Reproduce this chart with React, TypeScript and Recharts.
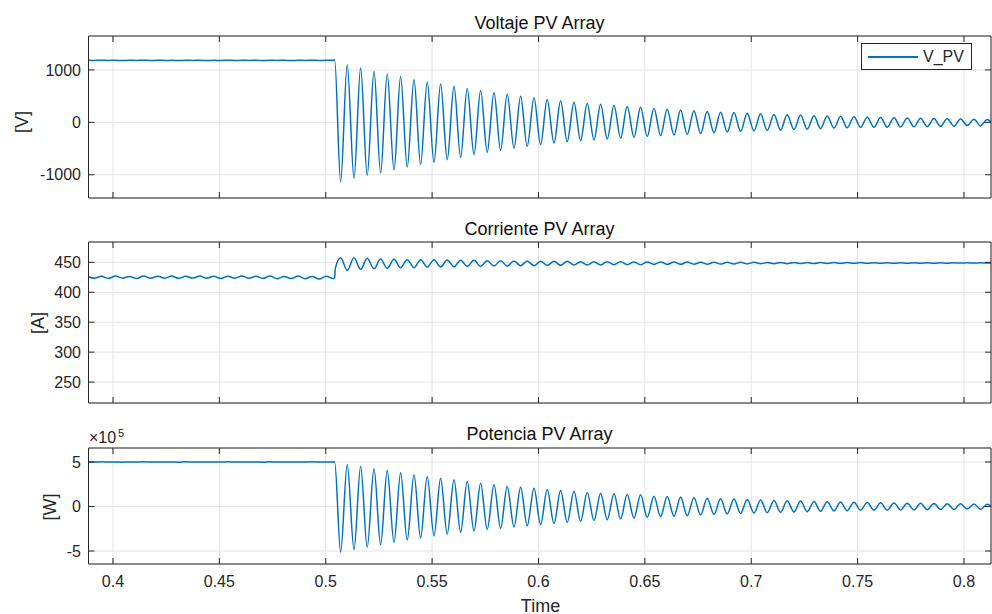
import React from 'react'
import { LineChart, Line, XAxis, YAxis, CartesianGrid } from 'recharts'

// eje de tiempo común
const xTicks = [0.4, 0.45, 0.5, 0.55, 0.6, 0.65, 0.7, 0.75, 0.8]
const xDomain = [0.3885, 0.8127]

// antes del escalón (rizado pequeño)
const tPre = [
  0.388, 0.3913, 0.3946, 0.3979, 0.4012, 0.4045, 0.4078, 0.4111, 0.4144, 0.4177, 0.421, 0.4243,
  0.4276, 0.4309, 0.4342, 0.4375, 0.4408, 0.4441, 0.4474, 0.4507, 0.454, 0.4573, 0.4606, 0.4639,
  0.4672, 0.4705, 0.4738, 0.4771, 0.4804, 0.4837, 0.487, 0.4903, 0.4936, 0.4969, 0.5002, 0.5035,
]
const vPre = [
  1184, 1180, 1186, 1181, 1185, 1179, 1184, 1182, 1186, 1180, 1185, 1181, 1184, 1179, 1186, 1182,
  1185, 1180, 1184, 1181, 1186, 1180, 1185, 1182, 1184, 1179, 1186, 1181, 1185, 1180, 1184, 1182,
  1186, 1180, 1185, 1183,
]
const iPre = [
  426.5, 423.5, 426.8, 423.2, 427.0, 423.8, 426.5, 423.0, 427.2, 423.5, 426.8, 423.6, 427.0, 423.3,
  426.6, 423.8, 427.1, 423.4, 426.9, 423.0, 426.8, 423.6, 427.2, 423.4, 426.7, 423.1, 427.0, 422.5,
  426.5, 423.0, 427.0, 422.8, 426.5, 422.0, 426.8, 423.0,
]
const pPre = [
  5.01, 4.99, 5.02, 4.99, 5.01, 4.98, 5.01, 5.0, 5.02, 4.99, 5.01, 4.99, 5.01, 4.98, 5.02, 5.0,
  5.01, 4.99, 5.01, 4.99, 5.02, 4.99, 5.01, 5.0, 5.01, 4.98, 5.02, 4.99, 5.01, 4.99, 5.01, 5.0,
  5.02, 4.99, 5.01, 5.0,
]

// escalón
const tStep = 0.5042
const vStep = 1195
const iStep = 424.5
const pStep = 5.02
const tJump = 0.5045
const iJump = 440

// oscilación amortiguada (picos y valles alternos)
const tOsc = [
  0.507, 0.5101, 0.5133, 0.5164, 0.5195, 0.5227, 0.5258, 0.5289, 0.5321, 0.5352, 0.5383, 0.5415,
  0.5446, 0.5477, 0.5509, 0.554, 0.5571, 0.5603, 0.5634, 0.5665, 0.5697, 0.5728, 0.5759, 0.5791,
  0.5822, 0.5853, 0.5885, 0.5916, 0.5947, 0.5979, 0.601, 0.6041, 0.6073, 0.6104, 0.6135, 0.6167,
  0.6198, 0.6229, 0.6261, 0.6292, 0.6323, 0.6355, 0.6386, 0.6417, 0.6449, 0.648, 0.6511, 0.6543,
  0.6574, 0.6605, 0.6637, 0.6668, 0.6699, 0.6731, 0.6762, 0.6793, 0.6825, 0.6856, 0.6887, 0.6919,
  0.695, 0.6981, 0.7013, 0.7044, 0.7075, 0.7107, 0.7138, 0.7169, 0.7201, 0.7232, 0.7263, 0.7295,
  0.7326, 0.7357, 0.7389, 0.742, 0.7451, 0.7483, 0.7514, 0.7545, 0.7577, 0.7608, 0.7639, 0.7671,
  0.7702, 0.7733, 0.7765, 0.7796, 0.7827, 0.7859, 0.789, 0.7921, 0.7953, 0.7984, 0.8015, 0.8047,
  0.8078, 0.8109, 0.8141,
]
const vOsc = [
  -1137, 1100, -1072, 1035, -1010, 975, -965, 925, -914, 875, -855, 820, -806, 770, -762, 730,
  -712, 688, -668, 648, -618, 610, -575, 572, -536, 535, -495, 500, -458, 470, -425, 435, -395,
  410, -370, 385, -352, 362, -335, 345, -318, 322, -300, 302, -285, 288, -270, 270, -255, 252,
  -243, 236, -232, 222, -215, 205, -198, 192, -186, 186, -174, 174, -165, 162, -155, 152, -148,
  143, -138, 138, -130, 127, -120, 120, -110, 114, -105, 108, -97, 99, -94, 92, -92, 89, -88, 83,
  -86, 80, -82, 74, -76, 70, -74, 66, -62, 60, -68, 55, -60,
]
const iOsc = [
  457.8, 436.5, 457.5, 438.2, 456.7, 439.4, 455.6, 439.9, 455.0, 441.0, 454.5, 441.0, 454.5, 442.2,
  454.2, 442.2, 453.9, 442.7, 453.4, 443.3, 453.4, 443.3, 452.8, 443.8, 452.8, 443.8, 452.2, 444.4,
  452.2, 444.4, 452.0, 445.0, 451.7, 445.0, 451.7, 445.5, 451.1, 445.5, 451.1, 445.6, 451.1, 446.1,
  451.0, 446.1, 450.6, 446.1, 450.6, 446.6, 450.6, 446.6, 450.5, 446.7, 450.4, 446.8, 450.3, 447.0,
  450.2, 447.1, 450.1, 447.3, 450.0, 447.4, 450.0, 447.6, 449.9, 447.7, 449.9, 447.8, 449.8, 447.9,
  449.8, 448.0, 449.7, 448.1, 449.7, 448.2, 449.6, 448.3, 449.6, 448.4, 449.5, 448.5, 449.5, 448.5,
  449.5, 448.6, 449.4, 448.6, 449.4, 448.7, 449.4, 448.7, 449.3, 448.8, 449.3, 448.8, 449.3, 448.9,
  449.2,
]
const pOsc = [
  -5.13, 4.72, -4.85, 4.53, -4.57, 4.23, -4.3, 4.04, -4.02, 3.78, -3.77, 3.56, -3.53, 3.37, -3.3,
  3.18, -3.08, 3.0, -2.9, 2.81, -2.74, 2.62, -2.58, 2.43, -2.45, 2.25, -2.31, 2.17, -2.17, 2.06,
  -2.04, 1.91, -1.92, 1.8, -1.8, 1.72, -1.69, 1.57, -1.58, 1.5, -1.49, 1.42, -1.4, 1.35, -1.31,
  1.31, -1.22, 1.16, -1.14, 1.13, -1.09, 1.06, -1.04, 0.99, -0.96, 0.92, -0.89, 0.86, -0.83, 0.83,
  -0.78, 0.78, -0.74, 0.73, -0.69, 0.68, -0.66, 0.64, -0.62, 0.62, -0.58, 0.57, -0.54, 0.54, -0.49,
  0.51, -0.47, 0.48, -0.43, 0.44, -0.42, 0.41, -0.41, 0.4, -0.39, 0.37, -0.39, 0.36, -0.37, 0.33,
  -0.34, 0.31, -0.33, 0.3, -0.28, 0.27, -0.3, 0.25, -0.27,
]

const vTicks = [-1000, 0, 1000]
const iTicks = [250, 300, 350, 400, 450]
const pTicks = [-5, 0, 5]

const FONT = "'Liberation Sans', Arial, Helvetica, sans-serif"
const INK = '#262626'
const BLUE = '#0072BD'
const TICK = 6

type Pt = { t: number; y: number }

const vData: Pt[] = [
  ...tPre.map((t, i) => ({ t, y: vPre[i] })),
  { t: tStep, y: vStep },
  ...tOsc.map((t, i) => ({ t, y: vOsc[i] })),
]
const iData: Pt[] = [
  ...tPre.map((t, i) => ({ t, y: iPre[i] })),
  { t: tStep, y: iStep },
  { t: tJump, y: iJump },
  ...tOsc.map((t, i) => ({ t, y: iOsc[i] })),
]
const pData: Pt[] = [
  ...tPre.map((t, i) => ({ t, y: pPre[i] })),
  { t: tStep, y: pStep },
  ...tOsc.map((t, i) => ({ t, y: pOsc[i] })),
]

// ticks hacia dentro, estilo MATLAB
function makeTick(side: 'bottom' | 'top' | 'left' | 'right', label: boolean) {
  return (props: any) => {
    const { x, y, payload } = props
    const text = String(payload.value)
    if (side === 'bottom') {
      return (
        <g>
          <line x1={x} x2={x} y1={y} y2={y - TICK} stroke={INK} />
          {label && (
            <text x={x} y={y + 22.5} textAnchor="middle" fill={INK} fontSize={16} fontFamily={FONT}>
              {text}
            </text>
          )}
        </g>
      )
    }
    if (side === 'top') {
      return <line x1={x} x2={x} y1={y} y2={y + TICK} stroke={INK} />
    }
    if (side === 'left') {
      return (
        <g>
          <line x1={x} x2={x + TICK} y1={y} y2={y} stroke={INK} />
          {label && (
            <text x={x - 7.5} y={y + 5.7} textAnchor="end" fill={INK} fontSize={16} fontFamily={FONT}>
              {text}
            </text>
          )}
        </g>
      )
    }
    return <line x1={x} x2={x - TICK} y1={y} y2={y} stroke={INK} />
  }
}

type PanelProps = {
  top: number
  height: number
  mTop: number
  mBottom: number
  xHeight: number
  data: Pt[]
  yDomain: number[]
  yTicks: number[]
  showX: boolean
}

function Panel({ top, height, mTop, mBottom, xHeight, data, yDomain, yTicks, showX }: PanelProps) {
  return (
    <div style={{ position: 'absolute', left: 0, top }}>
      <LineChart
        width={992}
        height={height}
        data={data}
        margin={{ top: mTop, right: 0, bottom: mBottom, left: 0 }}
      >
        <CartesianGrid stroke="#e4e4e4" />
        <XAxis
          dataKey="t"
          type="number"
          domain={xDomain}
          ticks={xTicks}
          allowDataOverflow
          interval={0}
          height={xHeight}
          tick={makeTick('bottom', showX)}
          tickSize={0}
          tickMargin={0}
          tickLine={false}
          axisLine={{ stroke: INK }}
        />
        <XAxis
          xAxisId="top"
          orientation="top"
          dataKey="t"
          type="number"
          domain={xDomain}
          ticks={xTicks}
          allowDataOverflow
          interval={0}
          height={1}
          tick={makeTick('top', false)}
          tickSize={0}
          tickMargin={0}
          tickLine={false}
          axisLine={{ stroke: INK }}
        />
        <YAxis
          type="number"
          domain={yDomain}
          ticks={yTicks}
          allowDataOverflow
          interval={0}
          width={88.5}
          tick={makeTick('left', true)}
          tickSize={0}
          tickMargin={0}
          tickLine={false}
          axisLine={{ stroke: INK }}
        />
        <YAxis
          yAxisId="right"
          orientation="right"
          type="number"
          domain={yDomain}
          ticks={yTicks}
          allowDataOverflow
          interval={0}
          width={1}
          tick={makeTick('right', false)}
          tickSize={0}
          tickMargin={0}
          tickLine={false}
          axisLine={{ stroke: INK }}
        />
        <Line
          type="monotone"
          dataKey="y"
          stroke={BLUE}
          strokeWidth={1.5}
          dot={false}
          activeDot={false}
          isAnimationActive={false}
        />
      </LineChart>
    </div>
  )
}

const titleStyle: React.CSSProperties = {
  position: 'absolute',
  left: 88,
  width: 903,
  textAlign: 'center',
  fontFamily: FONT,
  fontSize: 18,
  lineHeight: '18px',
  color: '#111',
}

const ylabelStyle: React.CSSProperties = {
  position: 'absolute',
  fontFamily: FONT,
  fontSize: 18,
  lineHeight: '18px',
  color: INK,
  whiteSpace: 'nowrap',
  transform: 'translate(-50%, -50%) rotate(-90deg)',
}

export default function App() {
  return (
    <div
      style={{
        position: 'absolute',
        left: 0,
        top: 0,
        width: 992,
        height: 614,
        background: '#fff',
        overflow: 'hidden',
      }}
    >
      <Panel top={0} height={210} mTop={35} mBottom={11} xHeight={1} data={vData}
        yDomain={[-1444, 1648]} yTicks={vTicks} showX={false} />
      <Panel top={210} height={200} mTop={31} mBottom={6} xHeight={1} data={iData}
        yDomain={[215, 484]} yTicks={iTicks} showX={false} />
      <Panel top={410} height={204} mTop={37} mBottom={0} xHeight={50} data={pData}
        yDomain={[-6.46, 6.57]} yTicks={pTicks} showX />

      <div style={{ ...titleStyle, top: 13.5 }}>Voltaje PV Array</div>
      <div style={{ ...titleStyle, top: 220 }}>Corriente PV Array</div>
      <div style={{ ...titleStyle, top: 424.5 }}>Potencia PV Array</div>

      <div style={{ ...ylabelStyle, left: 22, top: 122 }}>[V]</div>
      <div style={{ ...ylabelStyle, left: 37.5, top: 323 }}>[A]</div>
      <div style={{ ...ylabelStyle, left: 50, top: 506.5 }}>[W]</div>

      <div
        style={{
          position: 'absolute',
          left: 0,
          width: 1081,
          top: 596.5,
          textAlign: 'center',
          fontFamily: FONT,
          fontSize: 18,
          lineHeight: '18px',
          color: INK,
        }}
      >
        Time
      </div>

      <div style={{ position: 'absolute', left: 89, top: 430, fontFamily: FONT, fontSize: 16,
        lineHeight: '16px', color: INK }}>×10</div>
      <div style={{ position: 'absolute', left: 118, top: 427.5, fontFamily: FONT, fontSize: 11,
        lineHeight: '11px', color: INK }}>5</div>

      <div
        style={{
          position: 'absolute',
          left: 861,
          top: 43,
          width: 111,
          height: 27,
          boxSizing: 'border-box',
          border: `1px solid ${INK}`,
          background: '#fff',
        }}
      >
        <div style={{ position: 'absolute', left: 6, top: 12, width: 50, height: 1.5, background: BLUE }} />
        <div style={{ position: 'absolute', left: 61, top: 4.5, fontFamily: FONT, fontSize: 16,
          lineHeight: '16px', color: INK }}>V_PV</div>
      </div>
    </div>
  )
}
